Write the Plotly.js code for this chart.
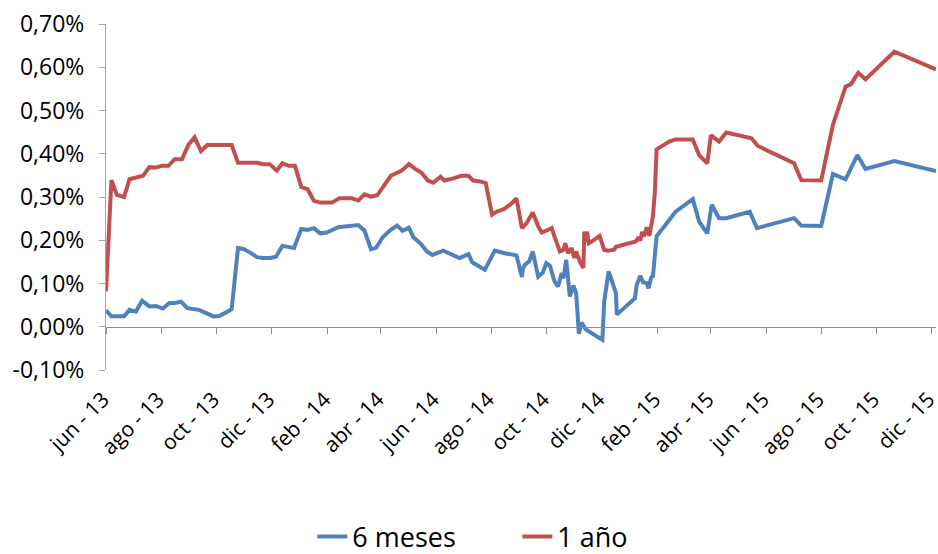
<!DOCTYPE html>
<html>
<head>
<meta charset="utf-8">
<script src="https://cdn.plot.ly/plotly-3.0.1.min.js"></script>
<style>html,body{margin:0;padding:0;background:#fff;}#chart{width:938px;height:554px;}</style>
</head>
<body>
<div id="chart"></div>
<script>
// 6 meses (blue)
const datesSeis = ["2013-06-01","2013-06-07","2013-06-21","2013-06-27","2013-07-04","2013-07-11","2013-07-19","2013-07-26","2013-08-03","2013-08-10","2013-08-16","2013-08-23","2013-08-30","2013-09-12","2013-09-28","2013-10-04","2013-10-11","2013-10-18","2013-10-25","2013-10-31","2013-11-07","2013-11-15","2013-11-22","2013-11-30","2013-12-06","2013-12-13","2013-12-26","2014-01-03","2014-01-10","2014-01-17","2014-01-24","2014-01-31","2014-02-13","2014-02-22","2014-03-07","2014-03-14","2014-03-21","2014-03-27","2014-04-03","2014-04-12","2014-04-19","2014-04-25","2014-05-02","2014-05-07","2014-05-15","2014-05-22","2014-05-28","2014-06-09","2014-06-18","2014-06-27","2014-07-07","2014-07-11","2014-07-25","2014-08-05","2014-08-16","2014-08-29","2014-09-04","2014-09-05","2014-09-07","2014-09-12","2014-09-16","2014-09-22","2014-09-27","2014-10-01","2014-10-05","2014-10-10","2014-10-14","2014-10-18","2014-10-20","2014-10-23","2014-10-27","2014-10-31","2014-11-03","2014-11-06","2014-11-09","2014-11-14","2014-12-02","2014-12-04","2014-12-09","2014-12-17","2014-12-18","2015-01-07","2015-01-09","2015-01-13","2015-01-16","2015-01-20","2015-01-22","2015-01-25","2015-01-27","2015-01-31","2015-02-21","2015-03-12","2015-03-19","2015-03-28","2015-04-02","2015-04-10","2015-04-18","2015-05-14","2015-05-22","2015-07-02","2015-07-10","2015-08-01","2015-08-14","2015-08-28","2015-09-10","2015-09-19","2015-10-21","2015-12-06"];
const valuesSeis = [0.038,0.024,0.024,0.039,0.035,0.060,0.047,0.048,0.042,0.055,0.055,0.058,0.043,0.039,0.024,0.025,0.032,0.041,0.182,0.180,0.172,0.161,0.159,0.159,0.162,0.187,0.182,0.226,0.224,0.228,0.216,0.218,0.230,0.232,0.235,0.222,0.179,0.183,0.207,0.224,0.234,0.222,0.229,0.207,0.192,0.174,0.166,0.176,0.168,0.159,0.168,0.149,0.132,0.176,0.170,0.165,0.115,0.133,0.143,0.151,0.174,0.116,0.125,0.147,0.141,0.105,0.093,0.124,0.112,0.155,0.070,0.095,0.078,-0.016,0.010,-0.007,-0.030,0.058,0.128,0.078,0.028,0.066,0.097,0.118,0.103,0.101,0.089,0.114,0.118,0.209,0.266,0.295,0.243,0.216,0.282,0.251,0.251,0.266,0.228,0.251,0.234,0.233,0.353,0.341,0.397,0.365,0.383,0.360];

// 1 año (red)
const datesUno = ["2013-06-01","2013-06-07","2013-06-13","2013-06-21","2013-06-27","2013-07-05","2013-07-12","2013-07-19","2013-07-26","2013-08-02","2013-08-09","2013-08-16","2013-08-24","2013-08-31","2013-09-07","2013-09-14","2013-09-21","2013-10-18","2013-10-25","2013-11-15","2013-11-22","2013-11-29","2013-12-07","2013-12-13","2013-12-20","2013-12-27","2014-01-03","2014-01-10","2014-01-17","2014-01-24","2014-02-06","2014-02-14","2014-02-28","2014-03-07","2014-03-14","2014-03-21","2014-03-28","2014-04-05","2014-04-12","2014-04-24","2014-05-02","2014-05-09","2014-05-16","2014-05-23","2014-05-29","2014-06-06","2014-06-10","2014-06-20","2014-06-29","2014-07-07","2014-07-12","2014-07-20","2014-07-26","2014-08-02","2014-08-07","2014-08-15","2014-08-23","2014-08-29","2014-09-04","2014-09-09","2014-09-16","2014-09-22","2014-09-26","2014-10-01","2014-10-07","2014-10-10","2014-10-16","2014-10-20","2014-10-22","2014-10-25","2014-10-29","2014-11-01","2014-11-03","2014-11-07","2014-11-11","2014-11-12","2014-11-14","2014-11-15","2014-11-17","2014-11-20","2014-11-29","2014-12-04","2014-12-08","2014-12-15","2014-12-17","2015-01-08","2015-01-11","2015-01-13","2015-01-15","2015-01-17","2015-01-20","2015-01-23","2015-01-27","2015-01-29","2015-01-31","2015-02-14","2015-02-21","2015-03-12","2015-03-19","2015-03-28","2015-04-01","2015-04-10","2015-04-18","2015-05-16","2015-05-23","2015-07-02","2015-07-10","2015-08-01","2015-08-07","2015-08-14","2015-08-28","2015-09-03","2015-09-11","2015-09-19","2015-10-21","2015-12-06"];
const valuesUno = [0.082,0.339,0.305,0.300,0.341,0.345,0.349,0.369,0.368,0.372,0.372,0.387,0.387,0.420,0.438,0.406,0.420,0.420,0.379,0.379,0.376,0.376,0.361,0.378,0.372,0.372,0.323,0.318,0.291,0.287,0.287,0.297,0.297,0.292,0.306,0.301,0.304,0.328,0.349,0.361,0.376,0.365,0.356,0.338,0.333,0.347,0.338,0.343,0.349,0.349,0.338,0.336,0.332,0.259,0.266,0.272,0.284,0.297,0.228,0.239,0.264,0.232,0.218,0.222,0.228,0.209,0.174,0.178,0.193,0.170,0.182,0.159,0.174,0.151,0.136,0.220,0.197,0.220,0.193,0.197,0.210,0.178,0.176,0.178,0.185,0.197,0.207,0.199,0.220,0.209,0.230,0.210,0.257,0.310,0.410,0.428,0.433,0.433,0.397,0.378,0.443,0.428,0.449,0.436,0.418,0.378,0.339,0.338,0.401,0.467,0.555,0.561,0.587,0.572,0.636,0.595];

const xTickVals = ["2013-06-01","2013-08-01","2013-10-01","2013-12-01","2014-02-01","2014-04-01","2014-06-01","2014-08-01","2014-10-01","2014-12-01","2015-02-01","2015-04-01","2015-06-01","2015-08-01","2015-10-01","2015-12-01"];
const xTickText = ["jun - 13","ago - 13","oct - 13","dic - 13","feb - 14","abr - 14","jun - 14","ago - 14","oct - 14","dic - 14","feb - 15","abr - 15","jun - 15","ago - 15","oct - 15","dic - 15"];
const yTickVals = [-0.1,0,0.1,0.2,0.3,0.4,0.5,0.6,0.7];
const yTickText = ["-0,10%","0,00%","0,10%","0,20%","0,30%","0,40%","0,50%","0,60%","0,70%"];

const FONT = "'Open Sans', 'Liberation Sans', sans-serif";
const xRange = ["2013-06-01","2015-12-06"];

const traces = [
  {x: datesSeis, y: valuesSeis, name: "6 meses", type: "scatter", mode: "lines",
   line: {color: "#4F81BD", width: 4}},
  {x: datesUno, y: valuesUno, name: "1 año", type: "scatter", mode: "lines",
   line: {color: "#C0504D", width: 4}},
  // empty trace so the zero-level axis (x2) is drawn
  {x: [], y: [], xaxis: "x2", yaxis: "y", type: "scatter", mode: "lines", showlegend: false, hoverinfo: "skip"}
];

const layout = {
  width: 938, height: 554,
  margin: {l: 106, r: 2, t: 24, b: 184},
  paper_bgcolor: "#ffffff", plot_bgcolor: "#ffffff",
  font: {family: FONT, color: "#000000", size: 22},
  showlegend: true,
  legend: {orientation: "h", xref: "container", yref: "container", x: 0.333, y: 0.031,
           xanchor: "left", yanchor: "middle", font: {size: 27, family: FONT},
           entrywidth: 160, entrywidthmode: "pixels", itemwidth: 30, bgcolor: "rgba(0,0,0,0)"},
  xaxis: {type: "date", range: xRange, tickmode: "array", tickvals: xTickVals, ticktext: xTickText,
          tickangle: -45, ticks: "", showline: false, showgrid: false, zeroline: false,
          ticklabelstandoff: 12, ticklabelshift: -3, ticklabeloverflow: "allow", tickfont: {size: 21, family: FONT}},
  xaxis2: {type: "date", range: xRange, overlaying: "x", anchor: "free", position: 0.125, side: "bottom",
           tickmode: "array", tickvals: xTickVals, showticklabels: false, ticks: "outside",
           ticklen: 6, tickcolor: "#8C8C8C", tickwidth: 1, showline: true, linecolor: "#8C8C8C", linewidth: 1,
           showgrid: false, zeroline: false},
  yaxis: {range: [-0.1, 0.7], tickmode: "array", tickvals: yTickVals, ticktext: yTickText,
          ticks: "outside", ticklen: 6, tickcolor: "#A6A6A6", showline: true, linecolor: "#A6A6A6",
          linewidth: 1, showgrid: false, zeroline: false, tickfont: {size: 23, family: FONT}, ticklabelstandoff: 10}
};

Plotly.newPlot("chart", traces, layout, {displayModeBar: false, staticPlot: true});
</script>
</body>
</html>
